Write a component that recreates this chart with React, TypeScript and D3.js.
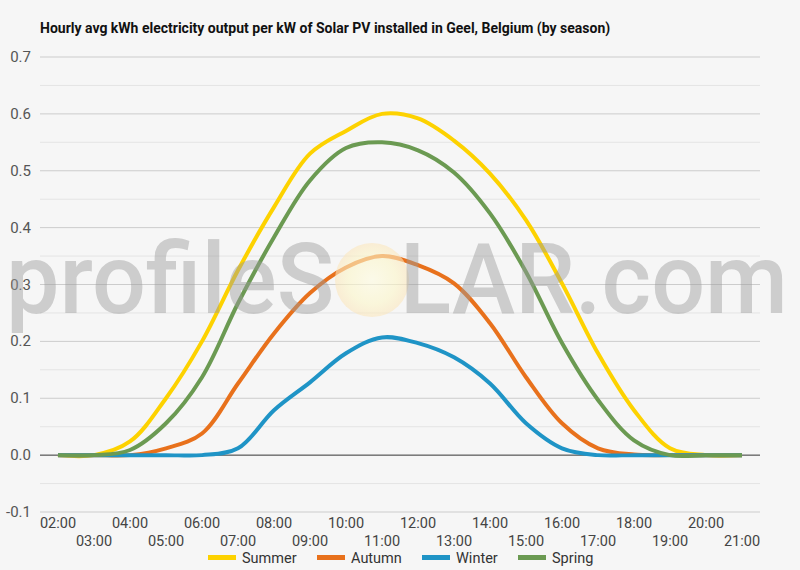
import * as d3 from "d3";
import { useEffect, useRef } from "react";

const hours = [
    "02:00", "03:00", "04:00", "05:00", "06:00", "07:00", "08:00", "09:00", "10:00", "11:00",
    "12:00", "13:00", "14:00", "15:00", "16:00", "17:00", "18:00", "19:00", "20:00", "21:00",
];

const summer = [0, 0, 0.024, 0.1, 0.2, 0.325, 0.436, 0.53, 0.57, 0.6, 0.592, 0.553, 0.495, 0.413, 0.302, 0.179, 0.079, 0.012, 0, 0];
const autumn = [0, 0, 0, 0.012, 0.038, 0.126, 0.214, 0.285, 0.33, 0.35, 0.334, 0.302, 0.232, 0.137, 0.056, 0.012, 0.001, 0, 0, 0];
const winter = [0, 0, 0, 0, 0, 0.012, 0.079, 0.128, 0.179, 0.207, 0.197, 0.172, 0.126, 0.056, 0.012, 0, 0, 0, 0, 0];
const spring = [0, 0, 0.009, 0.056, 0.137, 0.267, 0.383, 0.483, 0.54, 0.55, 0.536, 0.497, 0.425, 0.322, 0.197, 0.097, 0.026, 0, 0, 0];

const seriesNames = ["Summer", "Autumn", "Winter", "Spring"];
const seriesColors = ["#fdd200", "#e8711c", "#1f94c6", "#6b9a52"];
const seriesValues = [summer, autumn, winter, spring];

const yTicks = [-0.1, 0, 0.1, 0.2, 0.3, 0.4, 0.5, 0.6, 0.7];

const W = 800;
const H = 570;
const FONT = "Roboto, 'Noto Sans', sans-serif";

export default function App() {
    const svgRef = useRef<SVGSVGElement | null>(null);

    useEffect(() => {
        if (!svgRef.current) return;
        const svg = d3.select(svgRef.current);
        svg.selectAll("*").remove();

        const margin = { top: 57, right: 40, bottom: 58, left: 40 };

        svg.append("rect").attr("width", W).attr("height", H).attr("fill", "#f6f6f6");

        const x = d3.scalePoint<string>()
            .domain(hours)
            .range([margin.left, W - margin.right])
            .padding(0.5);

        const y = d3.scaleLinear()
            .domain([-0.1, 0.7])
            .range([H - margin.bottom, margin.top]);

        // title
        svg.append("text")
            .attr("x", 40)
            .attr("y", 33)
            .style("font-family", FONT)
            .style("font-size", "14px")
            .style("font-weight", "bold")
            .style("fill", "#111")
            .text("Hourly avg kWh electricity output per kW of Solar PV installed in Geel, Belgium (by season)");

        // minor grid
        const minor = d3.range(-0.05, 0.7, 0.1);
        svg.append("g")
            .selectAll("line")
            .data(minor)
            .enter()
            .append("line")
            .attr("x1", margin.left)
            .attr("x2", W - margin.right)
            .attr("y1", d => y(d))
            .attr("y2", d => y(d))
            .attr("stroke", "#e4e4e4")
            .attr("stroke-width", 1);

        // major grid
        svg.append("g")
            .selectAll("line")
            .data(yTicks)
            .enter()
            .append("line")
            .attr("x1", margin.left)
            .attr("x2", W - margin.right)
            .attr("y1", d => y(d))
            .attr("y2", d => y(d))
            .attr("stroke", d => (d === 0 ? "#333" : "#cccccc"))
            .attr("stroke-width", 1);

        // y labels
        svg.append("g")
            .selectAll("text")
            .data(yTicks)
            .enter()
            .append("text")
            .attr("x", 31)
            .attr("y", d => y(d) + 5)
            .attr("text-anchor", "end")
            .style("font-family", FONT)
            .style("font-size", "15px")
            .style("fill", "#555")
            .text(d => d.toFixed(1));

        // x labels on two rows
        svg.append("g")
            .selectAll("text")
            .data(hours)
            .enter()
            .append("text")
            .attr("x", d => x(d) || 0)
            .attr("y", (d, i) => (i % 2 === 0 ? 528 : 546))
            .attr("text-anchor", "middle")
            .style("font-family", FONT)
            .style("font-size", "14.5px")
            .style("fill", "#444")
            .text(d => d);

        // lines
        const line = d3.line<number>()
            .x((d, i) => x(hours[i]) || 0)
            .y(d => y(d))
            .curve(d3.curveCatmullRom.alpha(0.5));

        seriesValues.forEach((vals, k) => {
            svg.append("path")
                .datum(vals)
                .attr("fill", "none")
                .attr("stroke", seriesColors[k])
                .attr("stroke-width", 4)
                .attr("stroke-linecap", "butt")
                .attr("d", line);
        });

        // watermark
        const defs = svg.append("defs");
        const grad = defs.append("radialGradient").attr("id", "sun");
        grad.append("stop").attr("offset", "0%").attr("stop-color", "#fffce0");
        grad.append("stop").attr("offset", "65%").attr("stop-color", "#fcf6c8");
        grad.append("stop").attr("offset", "100%").attr("stop-color", "#fbe6bd");

        svg.append("circle")
            .attr("cx", 372)
            .attr("cy", 280)
            .attr("r", 37)
            .attr("fill", "url(#sun)")
            .attr("opacity", 0.6);

        const wm = svg.append("text")
            .attr("x", 6)
            .attr("y", 313)
            .attr("textLength", 782)
            .attr("lengthAdjust", "spacingAndGlyphs")
            .style("font-family", FONT)
            .style("font-size", "98px")
            .style("font-weight", "500")
            .style("fill", "#9c9c9c")
            .style("opacity", 0.45);
        wm.append("tspan").text("profileS");
        wm.append("tspan").style("fill-opacity", 0).text("O");
        wm.append("tspan").text("LAR.com");

        // legend
        const legendX = [208, 317, 422, 518];
        const legend = svg.append("g");
        seriesNames.forEach((name, k) => {
            legend.append("rect")
                .attr("x", legendX[k])
                .attr("y", 555)
                .attr("width", 28)
                .attr("height", 5)
                .attr("fill", seriesColors[k]);
            legend.append("text")
                .attr("x", legendX[k] + 34)
                .attr("y", 563)
                .style("font-family", FONT)
                .style("font-size", "14.5px")
                .style("fill", "#333")
                .text(name);
        });
    }, []);

    return (
        <div style={{ position: "absolute", left: 0, top: 0, width: W, height: H }}>
            <svg ref={svgRef} width={W} height={H} style={{ display: "block" }}></svg>
        </div>
    );
}
